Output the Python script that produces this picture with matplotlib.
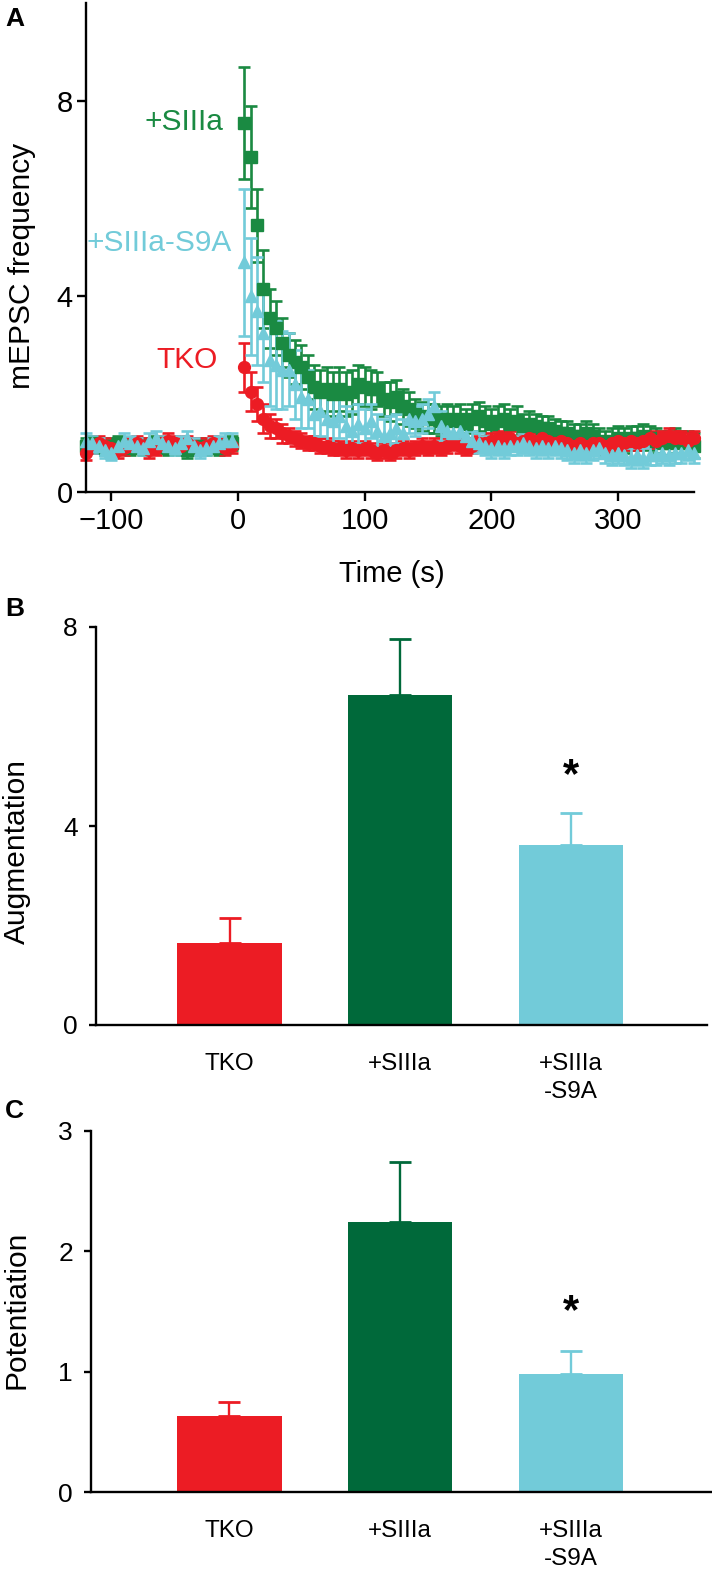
import numpy as np
import matplotlib
matplotlib.use('Agg')
import matplotlib.pyplot as plt

plt.rcParams['font.family'] = ['Liberation Sans', 'DejaVu Sans']

# ---- Panel A: mEPSC frequency time course (5 s bins) ----
time_base = np.arange(-120, 0, 5)
time_post = np.arange(5, 365, 5)

tko_base = [0.8, 0.95, 1.0, 0.95, 0.9, 0.85, 0.9, 0.95, 1.0, 0.95, 0.85, 0.9,
			1.0, 1.05, 1.0, 0.95, 1.0, 0.95, 0.9, 0.95, 1.0, 0.95, 0.9, 0.95]
siiia_base = [0.95, 1.0, 0.95, 0.9, 0.95, 1.0, 0.95, 0.9, 0.95, 0.9, 0.95, 1.0,
			0.95, 0.9, 0.95, 0.9, 0.85, 0.9, 0.95, 0.9, 0.95, 0.9, 0.95, 1.0]
s9a_base = [1.05, 1.0, 0.95, 0.85, 0.8, 0.95, 1.05, 1.0, 0.95, 0.9, 1.05, 1.1,
			1.0, 0.95, 0.9, 1.0, 1.1, 0.95, 0.85, 0.9, 0.95, 1.0, 1.05, 1.05]
base_sem = [0.15, 0.15, 0.15, 0.15, 0.15, 0.15, 0.15, 0.15, 0.15, 0.15, 0.15, 0.15,
			0.15, 0.15, 0.15, 0.15, 0.15, 0.15, 0.15, 0.15, 0.15, 0.15, 0.15, 0.15]

siiia_post = [7.55, 6.85, 5.45, 4.15, 3.55, 3.35, 3.05, 2.8, 2.65, 2.55, 2.35, 2.15,
			2.05, 2.1, 2.0, 2.1, 2.0, 2.05, 2.2, 2.15, 2.1, 2.1, 1.9, 1.85,
			1.95, 1.75, 1.7, 1.6, 1.55, 1.5, 1.5, 1.45, 1.5, 1.45, 1.5, 1.4,
			1.5, 1.55, 1.45, 1.4, 1.45, 1.5, 1.4, 1.45, 1.35, 1.4, 1.35, 1.3,
			1.3, 1.25, 1.2, 1.2, 1.15, 1.15, 1.2, 1.15, 1.05, 1.0, 1.05, 1.1,
			1.05, 1.1, 1.1, 1.15, 1.1, 1.05, 1.0, 1.0, 1.05, 1.0, 1.0, 0.95]
siiia_sem = [1.15, 1.05, 0.75, 0.8, 0.6, 0.55, 0.5, 0.45, 0.45, 0.45, 0.45, 0.45,
			0.45, 0.45, 0.45, 0.45, 0.45, 0.45, 0.4, 0.4, 0.4, 0.35, 0.35, 0.4,
			0.35, 0.35, 0.35, 0.3, 0.3, 0.3, 0.3, 0.3, 0.3, 0.3, 0.3, 0.3,
			0.3, 0.3, 0.3, 0.3, 0.3, 0.3, 0.3, 0.3, 0.25, 0.25, 0.25, 0.25,
			0.25, 0.25, 0.25, 0.25, 0.25, 0.25, 0.25, 0.25, 0.25, 0.25, 0.25, 0.25,
			0.25, 0.25, 0.25, 0.25, 0.25, 0.25, 0.25, 0.25, 0.25, 0.25, 0.25, 0.25]

tko_post = [2.55, 2.05, 1.8, 1.5, 1.35, 1.3, 1.2, 1.15, 1.1, 1.05, 1.0, 1.0,
			0.95, 0.95, 0.9, 0.9, 0.85, 0.9, 0.85, 0.9, 0.85, 0.8, 0.85, 0.8,
			0.85, 0.9, 0.85, 0.9, 0.95, 0.9, 0.95, 0.9, 0.95, 1.0, 0.95, 0.9,
			0.95, 1.0, 1.0, 1.05, 1.1, 1.05, 1.1, 1.0, 1.05, 1.1, 1.05, 1.1,
			1.05, 1.0, 1.05, 1.0, 0.95, 1.0, 0.95, 1.0, 1.0, 0.95, 1.0, 1.05,
			1.0, 1.05, 1.0, 1.05, 1.1, 1.05, 1.1, 1.15, 1.1, 1.1, 1.05, 1.1]
tko_sem = [0.5, 0.4, 0.35, 0.3, 0.25, 0.2, 0.2, 0.15, 0.15, 0.15, 0.15, 0.15,
			0.15, 0.15, 0.15, 0.15, 0.15, 0.15, 0.15, 0.15, 0.15, 0.15, 0.15, 0.15,
			0.15, 0.15, 0.15, 0.15, 0.15, 0.15, 0.15, 0.15, 0.15, 0.15, 0.15, 0.15,
			0.15, 0.15, 0.15, 0.15, 0.15, 0.15, 0.15, 0.15, 0.15, 0.15, 0.15, 0.15,
			0.15, 0.15, 0.15, 0.15, 0.15, 0.15, 0.15, 0.15, 0.15, 0.15, 0.15, 0.15,
			0.15, 0.15, 0.15, 0.15, 0.15, 0.15, 0.15, 0.15, 0.15, 0.15, 0.15, 0.15]

s9a_post = [4.7, 4.0, 3.7, 3.25, 2.7, 2.6, 2.5, 2.5, 2.2, 1.95, 1.9, 1.6,
			1.65, 1.5, 1.45, 1.55, 1.35, 1.25, 1.4, 1.3, 1.45, 1.25, 1.15, 1.2,
			1.3, 1.2, 1.5, 1.45, 1.5, 1.6, 1.75, 1.35, 1.25, 1.2, 1.25, 1.15,
			1.05, 1.0, 0.95, 0.9, 0.95, 0.9, 0.95, 0.95, 1.0, 0.95, 0.9, 0.95,
			0.9, 0.95, 0.9, 0.85, 0.8, 0.85, 0.8, 0.85, 0.9, 0.8, 0.75, 0.8,
			0.75, 0.7, 0.75, 0.7, 0.75, 0.75, 0.8, 0.75, 0.8, 0.8, 0.85, 0.8]
s9a_sem = [1.5, 1.2, 1.1, 1.0, 0.95, 0.9, 0.8, 0.75, 0.7, 0.65, 0.6, 0.55,
			0.5, 0.5, 0.45, 0.45, 0.4, 0.4, 0.4, 0.4, 0.35, 0.35, 0.35, 0.35,
			0.3, 0.3, 0.3, 0.3, 0.3, 0.3, 0.3, 0.3, 0.25, 0.25, 0.25, 0.25,
			0.2, 0.2, 0.2, 0.2, 0.2, 0.2, 0.2, 0.2, 0.2, 0.2, 0.2, 0.2,
			0.2, 0.2, 0.2, 0.2, 0.2, 0.2, 0.2, 0.2, 0.2, 0.2, 0.2, 0.2,
			0.2, 0.2, 0.2, 0.2, 0.2, 0.2, 0.2, 0.2, 0.2, 0.2, 0.2, 0.2]

# ---- Panels B and C: bar summaries ----
groups = ['TKO', '+SIIIa', '+SIIIa\n-S9A']
augmentation = [1.65, 6.63, 3.62]
augmentation_sem = [0.5, 1.13, 0.64]
potentiation = [0.63, 2.24, 0.98]
potentiation_sem = [0.12, 0.5, 0.19]

RED = '#ec1c24'
GREEN_A = '#1a8a42'
GREEN_BAR = '#00693a'
CYAN = '#72cbd9'

W, H = 712, 1575


def axes_rect(left, top, right, bottom):
	"""Convert pixel box to figure fraction rect."""
	return [left / W, 1 - bottom / H, (right - left) / W, (bottom - top) / H]


def style_axes(ax):
	for side in ['top', 'right']:
		ax.spines[side].set_visible(False)
	for side in ['left', 'bottom']:
		ax.spines[side].set_linewidth(1.7)


def plot_timecourse(ax):
	series = [
		(siiia_base, siiia_post, siiia_sem, GREEN_A, 's'),
		(tko_base, tko_post, tko_sem, RED, 'o'),
		(s9a_base, s9a_post, s9a_sem, CYAN, '^'),
	]
	for base, post, sem, color, marker in series:
		t = np.concatenate([time_base, time_post])
		y = np.concatenate([base, post])
		e = np.concatenate([base_sem, sem])
		ax.errorbar(t, y, yerr=e, fmt=marker, color=color, markersize=8.5,
					elinewidth=1.9, capsize=4.5, capthick=1.9, clip_on=False)
	ax.set_xlim(-120, 360)
	ax.set_ylim(0, 10)
	ax.set_xticks([-100, 0, 100, 200, 300])
	ax.set_yticks([0, 4, 8])
	ax.tick_params(axis='both', labelsize=21, width=1.7, length=6.5)
	ax.tick_params(axis='y', pad=3)
	ax.tick_params(axis='x', pad=4)
	style_axes(ax)


def plot_bars(ax, values, sems, ymax, yticks, star_y):
	x = np.arange(len(groups))
	colors = [RED, GREEN_BAR, CYAN]
	ax.bar(x, values, width=0.61, color=colors)
	for xi, v, s, c in zip(x, values, sems, colors):
		ax.errorbar(xi, v, yerr=[[0], [s]], color=c, elinewidth=1.7,
					capsize=8, capthick=2)
	ax.text(2, star_y, '*', fontsize=30, fontweight='bold', ha='center', va='baseline')
	ax.set_ylim(0, ymax)
	ax.set_yticks(yticks)
	ax.set_xticks(x)
	ax.set_xticklabels(groups)
	ax.tick_params(axis='y', labelsize=19, width=1.7, length=5, pad=8)
	ax.tick_params(axis='x', labelsize=17.5, length=0, pad=20)
	for lab in ax.get_xticklabels():
		lab.set_linespacing(1.35)
	style_axes(ax)


def main():
	fig = plt.figure(figsize=(W / 100, H / 100), dpi=100)

	ax_a = fig.add_axes(axes_rect(86, 3, 694, 492))
	plot_timecourse(ax_a)
	# series labels placed in pixel coordinates
	fig.text(223 / W, 1 - 122 / H, '+SIIIa', color=GREEN_A, fontsize=21.5, ha='right', va='center')
	fig.text(87 / W, 1 - 243 / H, '+SIIIa-S9A', color=CYAN, fontsize=21.5, ha='left', va='center')
	fig.text(218 / W, 1 - 360 / H, 'TKO', color=RED, fontsize=21.5, ha='right', va='center')
	fig.text(392 / W, 1 - 574 / H, 'Time (s)', fontsize=21, ha='center', va='center')
	fig.text(22 / W, 1 - 266 / H, 'mEPSC frequency', fontsize=21.5, rotation=90, ha='center', va='center')

	ax_b = fig.add_axes(axes_rect(96, 627, 707, 1025))
	ax_b.set_xlim(-0.782, 2.797)
	plot_bars(ax_b, augmentation, augmentation_sem, 8, [0, 4, 8], 4.78)
	fig.text(17 / W, 1 - 851 / H, 'Augmentation', fontsize=21.5, rotation=90, ha='center', va='center')

	ax_c = fig.add_axes(axes_rect(91, 1131, 712, 1492))
	ax_c.set_xlim(-0.811, 2.826)
	plot_bars(ax_c, potentiation, potentiation_sem, 3, [0, 1, 2, 3], 1.40)
	fig.text(17 / W, 1 - 1310 / H, 'Potentiation', fontsize=21.5, rotation=90, ha='center', va='center')

	# panel letters
	for letter, top in [('A', 7), ('B', 597), ('C', 1099)]:
		fig.text(5 / W, 1 - top / H, letter, fontsize=19, fontweight='bold', ha='left', va='top')

	fig.savefig('out.png', dpi=100)


if __name__ == '__main__':
	main()
